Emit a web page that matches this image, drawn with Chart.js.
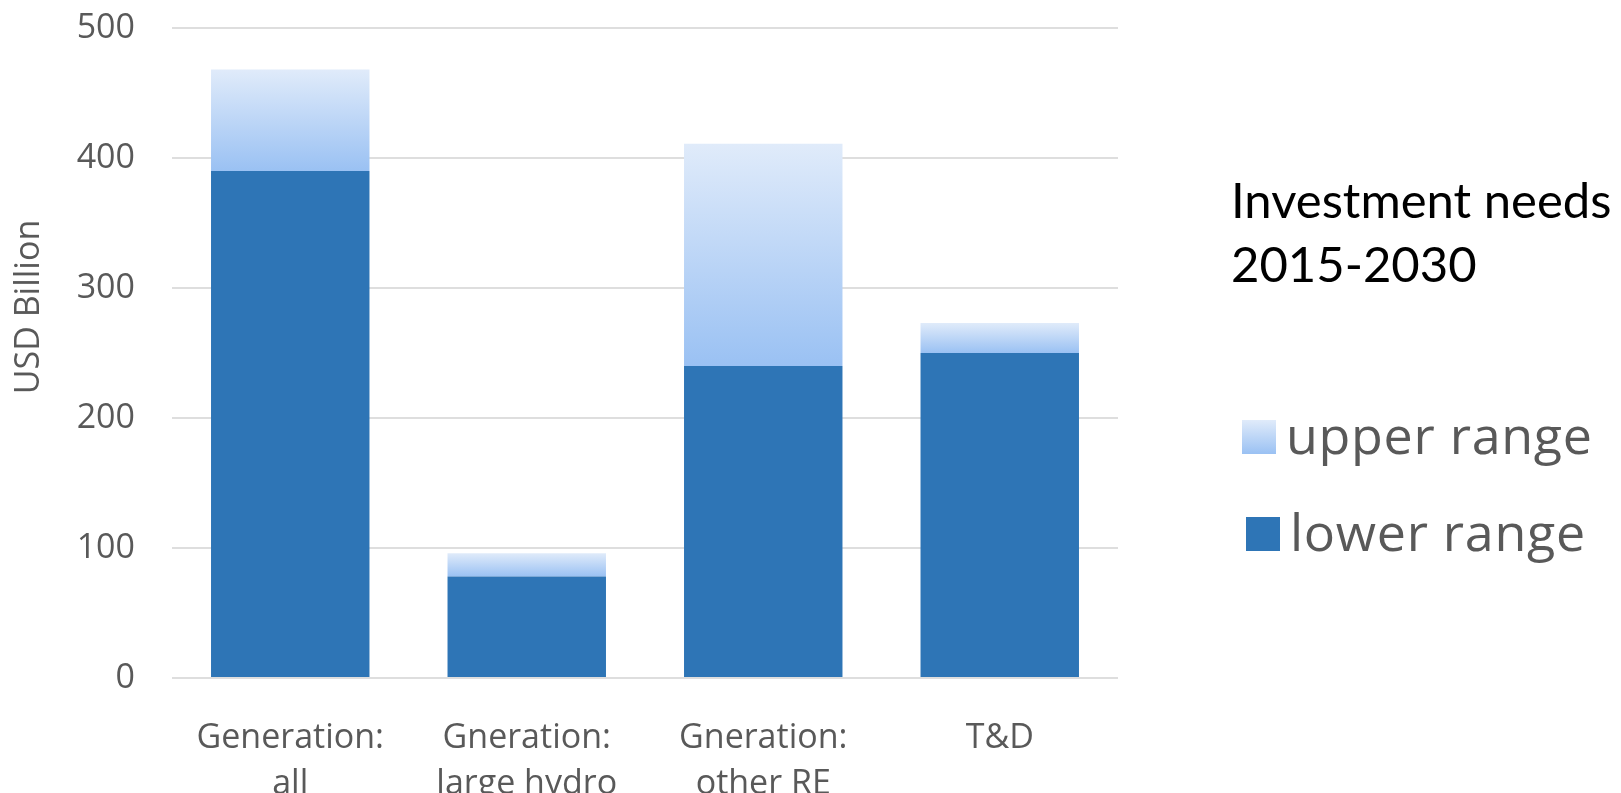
<!DOCTYPE html>
<html>
<head>
<meta charset="utf-8">
<title>Investment needs 2015-2030</title>
<script src="https://cdn.jsdelivr.net/npm/chart.js@4/dist/chart.umd.min.js"></script>
<style>
    html, body { margin: 0; padding: 0; background: #ffffff; }
    #wrap { position: relative; width: 1621px; height: 793px; overflow: hidden; }
    #chart { position: absolute; left: 0; top: 0; }
    .y-title {
        position: absolute; left: -124px; top: 290px; width: 300px;
        font: 34px 'Open Sans', sans-serif; line-height: 34px; color: #595959;
        text-align: center; transform: rotate(-90deg); white-space: nowrap;
    }
    .heading {
        position: absolute; left: 1231px; top: 167px;
        font: 49px Lato, 'Open Sans', sans-serif; line-height: 64px; color: #000000;
    }
    .legend-row { position: absolute; height: 52px; white-space: nowrap; }
    .legend-box { position: absolute; width: 34px; height: 34px; top: 12px; }
    .legend-text {
        position: absolute; left: 44px; top: 0; letter-spacing: 0.7px;
        font: 52px 'Open Sans', sans-serif; line-height: 52px; color: #595959;
    }
</style>
</head>
<body>
<div id="wrap">
    <canvas id="chart" width="1621" height="793"></canvas>
    <div class="y-title">USD Billion</div>
    <div class="heading">Investment needs<br>2015-2030</div>
    <div id="legend"></div>
</div>
<script>
// ================================================
// Investment needs 2015-2030 - stacked range bars
// ================================================

const categories = [
    ['Generation:', 'all'],
    ['Gneration:', 'large hydro'],
    ['Gneration:', 'other RE'],
    'T&D'
];
const lowerRange = [390, 78, 240, 250];   // USD Billion
const upperRange = [78, 18, 171, 23];     // extra on top of lower range
const seriesLabels = ['lower range', 'upper range'];
const yTicks = [0, 100, 200, 300, 400, 500];

const lowerColor = '#2e75b6';
const upperTop = '#e0ebfa';
const upperBottom = '#9ac1f3';

// vertical gradient per bar, from the top of the stack down to the lower range
function upperFill(ctx) {
    const chart = ctx.chart;
    const i = ctx.dataIndex;
    if (!chart.chartArea || i === undefined) return upperBottom;
    const y = chart.scales.y;
    const top = y.getPixelForValue(lowerRange[i] + upperRange[i]);
    const bottom = y.getPixelForValue(lowerRange[i]);
    const g = chart.ctx.createLinearGradient(0, top, 0, bottom);
    g.addColorStop(0, upperTop);
    g.addColorStop(1, upperBottom);
    return g;
}

const tickFont = { family: "'Open Sans', sans-serif", size: 34 };

const chart = new Chart(document.getElementById('chart'), {
    type: 'bar',
    data: {
        labels: categories,
        datasets: [
            {
                label: seriesLabels[0],
                data: lowerRange,
                backgroundColor: lowerColor,
                borderWidth: 0,
                categoryPercentage: 1,
                barPercentage: 0.67
            },
            {
                label: seriesLabels[1],
                data: upperRange,
                backgroundColor: upperFill,
                borderWidth: 0,
                categoryPercentage: 1,
                barPercentage: 0.67
            }
        ]
    },
    options: {
        responsive: false,
        animation: false,
        layout: { padding: { top: 28, right: 503, bottom: 0, left: 0 } },
        plugins: {
            legend: { display: false },
            tooltip: { enabled: false }
        },
        scales: {
            x: {
                stacked: true,
                grid: { display: false },
                border: { display: false },
                ticks: {
                    color: '#595959',
                    font: { ...tickFont, lineHeight: 1.36 },
                    padding: 29,
                    maxRotation: 0,
                    autoSkip: false
                },
                afterFit: (s) => { s.height = 115; }
            },
            y: {
                stacked: true,
                min: 0,
                max: 500,
                afterBuildTicks: (s) => { s.ticks = yTicks.map(v => ({ value: v })); },
                grid: { color: '#dedede', lineWidth: 2, drawTicks: false },
                border: { display: false },
                ticks: {
                    color: '#595959',
                    font: tickFont,
                    padding: 37
                },
                afterFit: (s) => {
                    s.width = 172;
                    s.paddingTop = 0;
                    s.paddingBottom = 0;
                }
            }
        }
    }
});

// legend on the right, upper range listed first like the original
const legendEl = document.getElementById('legend');
const legendRows = [
    { text: seriesLabels[1], fill: `linear-gradient(${upperTop}, ${upperBottom})`, left: 1242, top: 408 },
    { text: seriesLabels[0], fill: lowerColor, left: 1246, top: 505 }
];
legendEl.innerHTML = legendRows.map(r => `
    <div class="legend-row" style="left:${r.left}px; top:${r.top}px;">
        <div class="legend-box" style="background:${r.fill};"></div>
        <div class="legend-text">${r.text}</div>
    </div>
`).join('');
</script>
</body>
</html>
